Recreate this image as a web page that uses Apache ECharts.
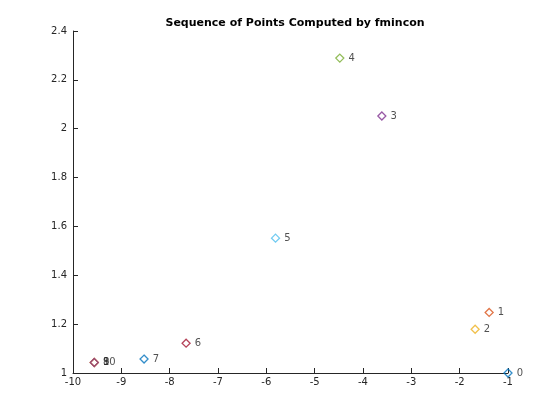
<!DOCTYPE html>
<html>
<head>
<meta charset="utf-8">
<script src="https://cdn.jsdelivr.net/npm/echarts@6/dist/echarts.min.js"></script>
<style>html,body{margin:0;padding:0;background:#fff;}#c{width:560px;height:420px;}</style>
</head>
<body>
<div id="c"></div>
<script>
const xs = [-1.0, -1.39, -1.68, -3.61, -4.48, -5.81, -7.66, -8.53, -9.56, -9.56, -9.56];
const ys = [1.0, 1.248, 1.179, 2.052, 2.289, 1.552, 1.122, 1.057, 1.043, 1.043, 1.043];
const pointLabels = ['0','1','2','3','4','5','6','7','8','9','10'];
const colors = ['#0072BD','#D95319','#EDB120','#7E2F8E','#77AC30','#4DBEEE','#A2142F'];
const xTicks = [-10,-9,-8,-7,-6,-5,-4,-3,-2,-1];
const yTicks = [1,1.2,1.4,1.6,1.8,2,2.2,2.4];

const chart = echarts.init(document.getElementById('c'), null, {renderer:'canvas'});
const font = 'DejaVu Sans';
const axisColor = '#262626';
const data = xs.map((x,i)=>({
  value:[x, ys[i]],
  name: pointLabels[i],
  itemStyle:{color:'rgba(0,0,0,0)', borderColor: colors[i % colors.length], borderWidth:1.3}
}));
chart.setOption({
  animation:false,
  title:{
    text:'Sequence of Points Computed by fmincon',
    left: 290, top: 13, textAlign:'center',
    textStyle:{fontFamily:font, fontSize:11, fontWeight:'bold', color:'#000'}
  },
  grid:{left:73, right:52, top:31, bottom:47, containLabel:false},
  xAxis:{
    type:'value', min:xTicks[0], max:xTicks[xTicks.length-1], interval:1,
    axisLine:{show:true, onZero:false, lineStyle:{color:axisColor, width:1}},
    axisTick:{show:true, inside:true, length:5, lineStyle:{color:axisColor}},
    axisLabel:{fontFamily:font, fontSize:10, color:axisColor, margin:4},
    splitLine:{show:false}
  },
  yAxis:{
    type:'value', min:yTicks[0], max:yTicks[yTicks.length-1], interval:0.2,
    axisLine:{show:true, onZero:false, lineStyle:{color:axisColor, width:1}},
    axisTick:{show:true, inside:true, length:5, lineStyle:{color:axisColor}},
    axisLabel:{fontFamily:font, fontSize:10, color:axisColor, margin:6,
      formatter:v=>String(Math.round(v*10)/10)},
    splitLine:{show:false}
  },
  series:[{
    type:'scatter',
    symbol:'diamond',
    symbolSize:[8,8],
    data:data,
    label:{show:true, position:'right', distance:4, formatter:p=>p.name,
      fontFamily:font, fontSize:10, color:axisColor},
    labelLayout:{hideOverlap:false},
    clip:false
  }]
});
</script>
</body>
</html>
